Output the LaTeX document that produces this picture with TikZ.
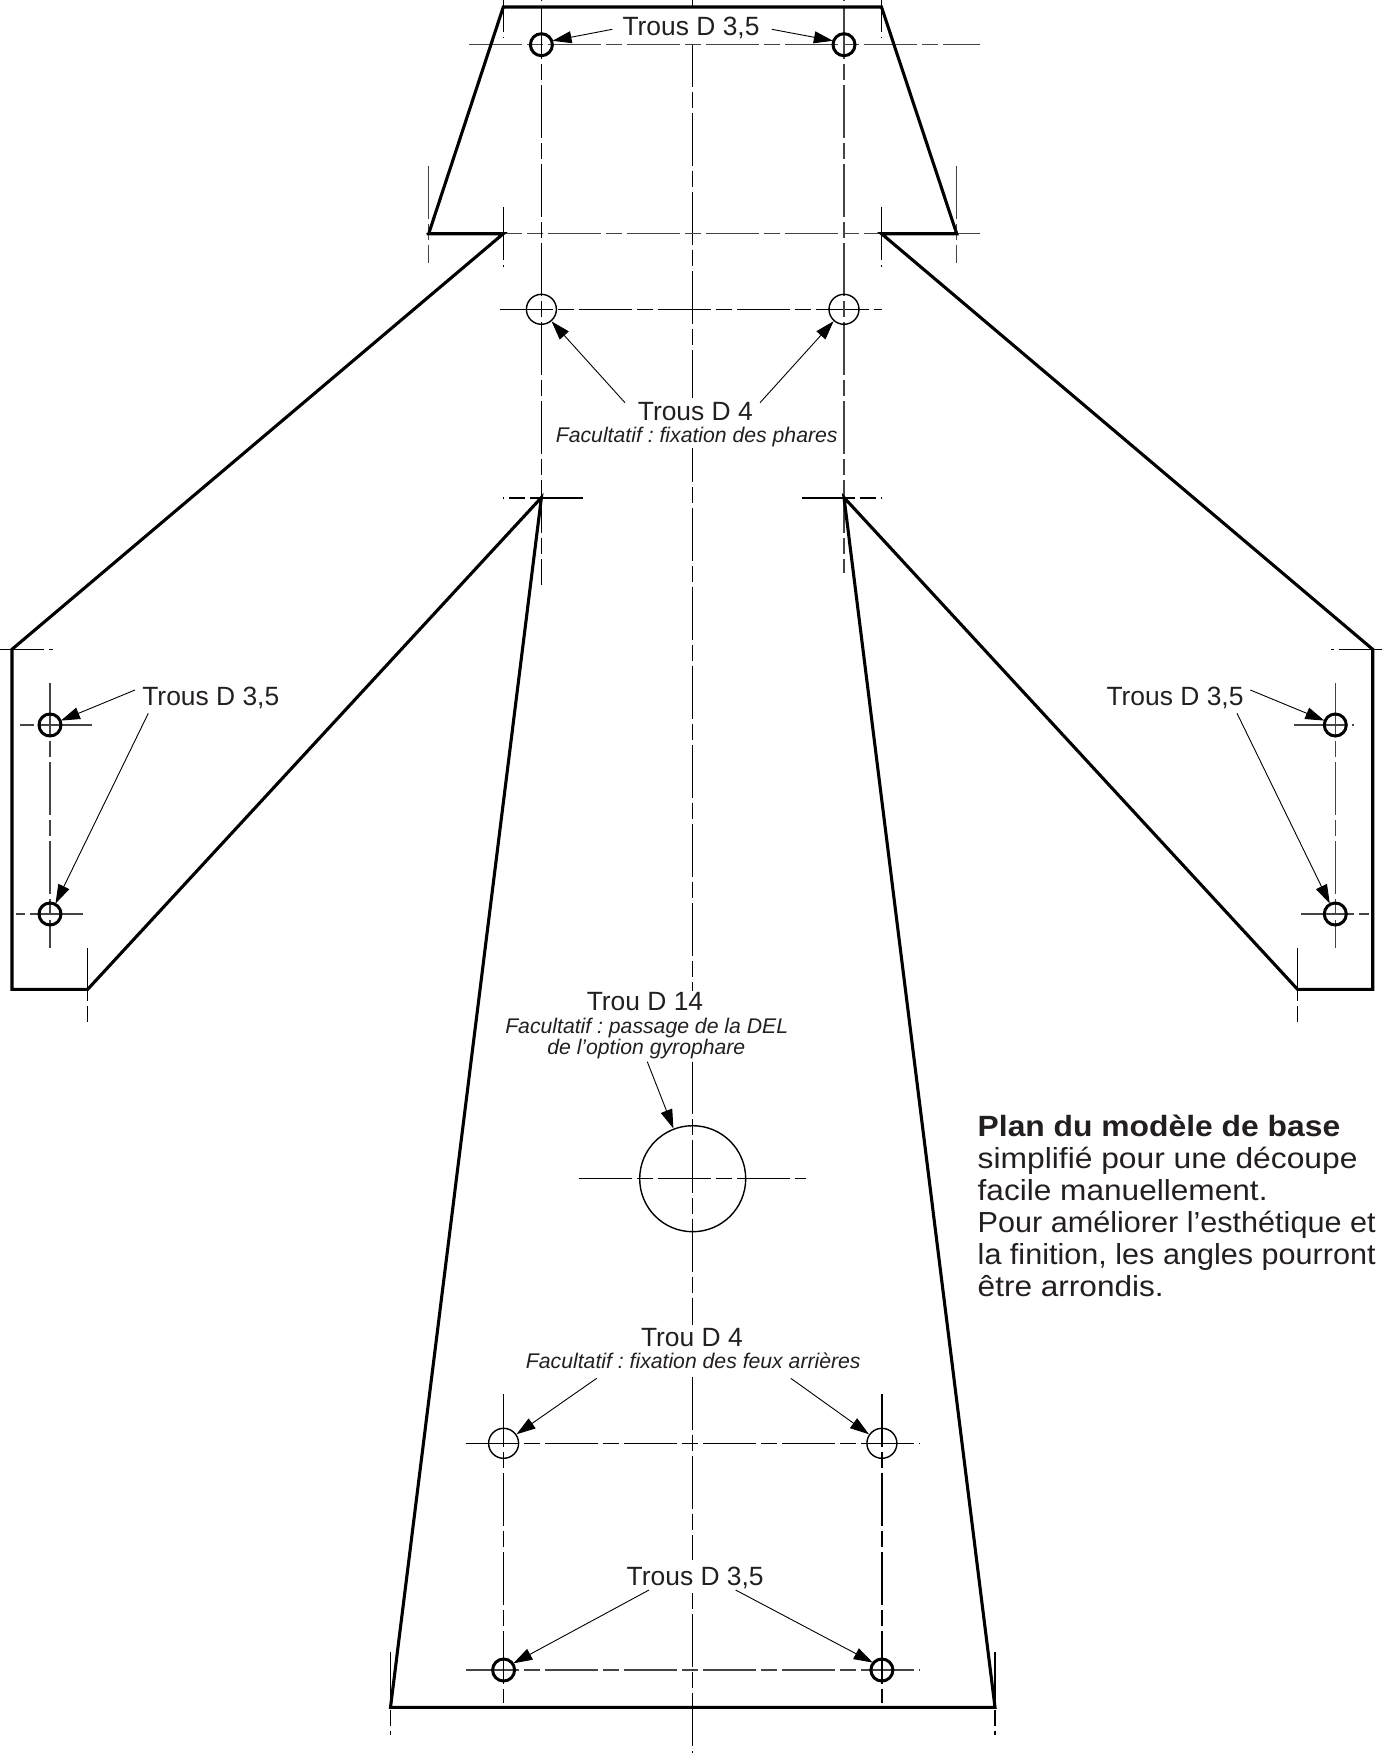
\documentclass[tikz,border=0pt]{standalone}
\usepackage{fontspec}
\setmainfont{Liberation Sans}
\usetikzlibrary{arrows.meta}
\definecolor{ink}{HTML}{231F20}
\definecolor{axisgray}{HTML}{444444}
\tikzset{
  x=0.5pt,y=-0.5pt,
  axis/.style={line width=.6pt,dash pattern=on 26.5pt off 2.5pt on 8pt off 2.5pt},
  axisg/.style={axis,color=axisgray},
  outline/.style={line width=1.55pt,line join=miter},
  holeA/.style={circle,draw,line width=1.5pt,minimum size=11pt,inner sep=0pt,outer sep=0pt},
  holeB/.style={circle,draw,line width=.7pt,minimum size=15pt,inner sep=0pt,outer sep=0pt},
  holeC/.style={circle,draw,line width=.7pt,minimum size=53pt,inner sep=0pt,outer sep=0pt},
  ptr/.style={line width=.45pt,-{Triangle[length=9.5pt,width=6pt]},shorten >=.4pt},
  lblmain/.style={anchor=base,inner sep=0pt,text=ink,font=\fontsize{13.2}{15}\selectfont},
  lblnote/.style={anchor=base,inner sep=0pt,text=ink,font=\fontsize{10.6}{10.5}\selectfont\itshape\frenchspacing},
  para/.style={anchor=base west,inner sep=0pt,text=ink,font=\fontsize{14.5}{16}\selectfont\addfontfeature{FakeStretch=#1}},
  parab/.style={anchor=base west,inner sep=0pt,text=ink,font=\fontsize{14.65}{16}\selectfont\bfseries\addfontfeature{FakeStretch=#1}},
  mask/.style={fill=white,draw=none}
}
\begin{document}
\begin{tikzpicture}
\useasboundingbox (0,0) rectangle (1382,1757);
% centre and axis lines
\draw[axis,dash phase=22.65pt] (692.7,0) -- (692.7,1753);
\draw[axisg] (469,44.7) -- (979.6,44.7);
\draw[axisg,dash phase=18pt] (426,233.7) -- (980,233.7);
\draw[axis] (500,309.3) -- (881.7,309.3);
\draw[axis] (583,498) -- (503,498);
\draw[axis] (802,498) -- (881.7,498);
\draw[axis,dash phase=4.5pt] (0,649.3) -- (53,649.3);
\draw[axis,dash phase=5pt] (1382,649.3) -- (1331.3,649.3);
\draw[axisg] (91.7,725) -- (20,725);
\draw[axisg] (83.3,914) -- (16,914);
\draw[axisg] (1293.7,725) -- (1353.7,725);
\draw[axisg] (1301,914) -- (1369.3,914);
\draw[axis] (579,1178.7) -- (806,1178.7);
\draw[axis] (466,1443.3) -- (919.4,1443.3);
\draw[axisg] (466,1670) -- (919.4,1670);
\draw[axisg] (428.7,165.7) -- (428.7,263);
\draw[axisg] (956.7,165.7) -- (956.7,263);
\draw[axis,dash phase=10.5pt] (503.3,0) -- (503.3,38);
\draw[axis,dash phase=10.5pt] (881.5,0) -- (881.5,38);
\draw[axis] (503.3,207) -- (503.3,267);
\draw[axis] (881.5,207) -- (881.5,267);
\draw[axis,dash phase=36.5pt] (541.4,0) -- (541.4,585);
\draw[axisg,dash phase=36.5pt] (844,0) -- (844,573);
\draw[axisg] (50,683) -- (50,948);
\draw[axisg] (1335.3,683) -- (1335.3,948);
\draw[axis] (87.7,948) -- (87.7,1021.7);
\draw[axis] (1297.5,948) -- (1297.5,1021.7);
\draw[axis] (503.6,1394) -- (503.6,1703);
\draw[axis] (881.9,1394) -- (881.9,1703);
\draw[axis] (390.5,1651.7) -- (390.5,1735);
\draw[axis] (995,1651.7) -- (995,1735);
% gaps in the centre line behind the labels
\fill[mask] (684,8) rectangle (701,43.5);
\fill[mask] (684,398) rectangle (701,448);
\fill[mask] (684,991) rectangle (701,1061.5);
\fill[mask] (684,1325) rectangle (701,1375);
\fill[mask] (684,1560) rectangle (701,1593);
% part outline
\draw[outline] (503.3,7) -- (428.7,233.7) -- (503.3,233.7) -- (12,649.3) -- (12,989.3)
  -- (87.7,989.3) -- (541.4,497.5) -- (390.5,1707.3) -- (995,1707.3) -- (844,497.5)
  -- (1297.5,989.3) -- (1372.7,989.3) -- (1372.7,649.3) -- (881.5,233.7) -- (956.7,233.7)
  -- (881.5,7) -- cycle;
% holes
\node[holeA] (hTL) at (541.4,44.7) {};
\node[holeA] (hTR) at (844,44.7) {};
\node[holeB] (hPL) at (541.4,309.3) {};
\node[holeB] (hPR) at (844,309.3) {};
\node[holeA] (hAL) at (50,725) {};
\node[holeA] (hBL) at (50,914) {};
\node[holeA] (hAR) at (1335.3,725) {};
\node[holeA] (hBR) at (1335.3,914) {};
\node[holeC] (hDEL) at (692.7,1178.7) {};
\node[holeB] (hFL) at (503.6,1443.3) {};
\node[holeB] (hFR) at (881.9,1443.3) {};
\node[holeA] (hRL) at (503.6,1670) {};
\node[holeA] (hRR) at (881.9,1670) {};
% labels
\node[lblmain] (lTop) at (691,35.7) {Trous D 3,5};
\node[lblmain] (lPh) at (695.3,420.7) {Trous D 4};
\node[lblnote] (lPhn) at (696.7,442.3) {Facultatif : fixation des phares};
\node[lblmain] (lArmL) at (210.8,705) {Trous D 3,5};
\node[lblmain] (lArmR) at (1175,705) {Trous D 3,5};
\node[lblmain] (lDel) at (645,1010.7) {Trou D 14};
\node[lblnote] (lDeln) at (646.7,1033.3) {Facultatif : passage de la DEL};
\node[lblnote] (lDelm) at (646.3,1054) {de l’option gyrophare};
\node[lblmain] (lFe) at (691.9,1346.7) {Trou D 4};
\node[lblnote] (lFen) at (693.3,1368.3) {Facultatif : fixation des feux arrières};
\node[lblmain] (lRe) at (695.2,1585) {Trous D 3,5};
% arrow tails
\coordinate (tTL) at (612.3,29.3);
\coordinate (tTR) at (771.8,29.3);
\coordinate (tPL) at (625,402.7);
\coordinate (tPR) at (760,402.7);
\coordinate (tAL) at (135,690);
\coordinate (tBL) at (148.3,713.3);
\coordinate (tAR) at (1250.3,690);
\coordinate (tBR) at (1237,713.3);
\coordinate (tDel) at (647.3,1061.7);
\coordinate (tFL) at (596.7,1378.3);
\coordinate (tFR) at (790.8,1378.3);
\coordinate (tRL) at (649,1590);
\coordinate (tRR) at (735.6,1590);
\draw[ptr] (tTL) -- (hTL.20);
\draw[ptr] (tTR) -- (hTR.160);
\draw[ptr] (tPL) -- (hPL.-50);
\draw[ptr] (tPR) -- (hPR.-131);
\draw[ptr] (tAL) -- (hAL.22);
\draw[ptr] (tBL) -- (hBL.62);
\draw[ptr] (tAR) -- (hAR.158);
\draw[ptr] (tBR) -- (hBR.118);
\draw[ptr] (tDel) -- (hDEL.111);
\draw[ptr] (tFL) -- (hFL.35);
\draw[ptr] (tFR) -- (hFR.145);
\draw[ptr] (tRL) -- (hRL.35);
\draw[ptr] (tRR) -- (hRR.140);
% note
\node[parab=1.086] (nA) at (977.3,1136) {Plan du modèle de base};
\node[para=1.096] (nB) at (977.3,1168.3) {simplifié pour une découpe};
\node[para=1.09] (nC) at (977.3,1200) {facile manuellement.};
\node[para=1.055] (nD) at (977.3,1232.3) {Pour améliorer l’esthétique et};
\node[para=1.055] (nE) at (977.3,1264.3) {la finition, les angles pourront};
\node[para=1.089] (nF) at (977.3,1296.7) {être arrondis.};
\end{tikzpicture}
\end{document}
